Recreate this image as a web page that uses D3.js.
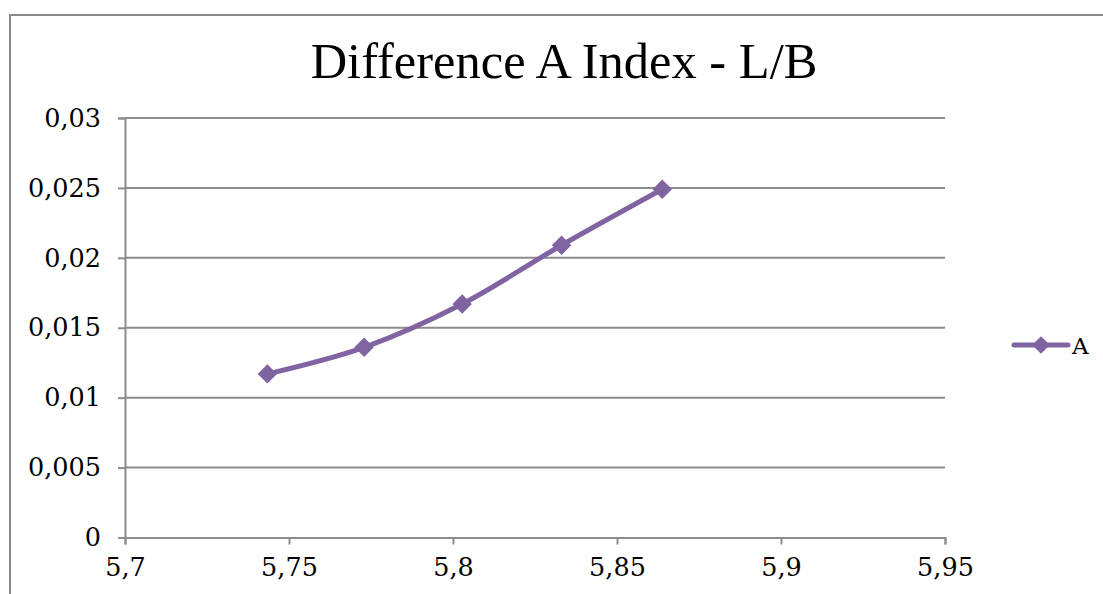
<!DOCTYPE html>
<html>
<head>
<meta charset="utf-8">
<script src="https://cdn.jsdelivr.net/npm/d3@7/dist/d3.min.js"></script>
<style>
  html, body { margin: 0; padding: 0; background: #fff; }
  svg { display: block; }
</style>
</head>
<body>
<svg id="chart" width="1103" height="594"></svg>
<script>
// Series A: L/B ratio against difference in A index
const seriesName = "A";
const lbValues = [5.7434, 5.7729, 5.8028, 5.8331, 5.8638];
const diffValues = [0.0117, 0.0136, 0.0167, 0.0209, 0.0249];
const xTicks = [5.7, 5.75, 5.8, 5.85, 5.9, 5.95];
const yTicks = [0, 0.005, 0.01, 0.015, 0.02, 0.025, 0.03];
const titleText = "Difference A Index - L/B";

const svg = d3.select("#chart");
const plot = { left: 125, right: 945, top: 118, bottom: 537.5 };
const gridColor = "#8c8c8c";
const seriesColor = "#8064a2";
const tickFont = "DejaVu Serif, serif";

const fmt = v => String(v).replace(".", ",");

const x = d3.scaleLinear().domain([5.7, 5.95]).range([plot.left, plot.right]);
const y = d3.scaleLinear().domain([0, 0.03]).range([plot.bottom, plot.top]);

// Chart frame
svg.append("rect")
  .attr("x", 10).attr("y", 15)
  .attr("width", 1200).attr("height", 700)
  .attr("fill", "none")
  .attr("stroke", "#888")
  .attr("stroke-width", 2);

// Title
svg.append("text")
  .attr("x", 564).attr("y", 78)
  .attr("text-anchor", "middle")
  .attr("font-family", "Liberation Serif, serif")
  .attr("font-size", 50.5)
  .attr("fill", "#000")
  .text(titleText);

// Horizontal gridlines
svg.append("g")
  .selectAll("line")
  .data(yTicks.filter(t => t > 0))
  .join("line")
  .attr("x1", plot.left).attr("x2", plot.right)
  .attr("y1", d => y(d)).attr("y2", d => y(d))
  .attr("stroke", gridColor)
  .attr("stroke-width", 2);

// Y axis
const yAxis = svg.append("g")
  .attr("transform", `translate(${plot.left},0)`)
  .call(d3.axisLeft(y).tickValues(yTicks).tickFormat(fmt).tickSize(7).tickPadding(17));
yAxis.attr("font-family", null).attr("font-size", null);
yAxis.select(".domain").attr("stroke", gridColor).attr("stroke-width", 2);
yAxis.selectAll(".tick line").attr("stroke", gridColor).attr("stroke-width", 2);
yAxis.selectAll(".tick text")
  .style("font-family", tickFont).style("font-size", "25.5px").attr("fill", "#000");

// X axis
const xAxis = svg.append("g")
  .attr("transform", `translate(0,${plot.bottom})`)
  .call(d3.axisBottom(x).tickValues(xTicks).tickFormat(fmt).tickSize(7).tickPadding(13));
xAxis.attr("font-family", null).attr("font-size", null);
xAxis.select(".domain").attr("stroke", gridColor).attr("stroke-width", 2);
xAxis.selectAll(".tick line").attr("stroke", gridColor).attr("stroke-width", 2);
xAxis.selectAll(".tick text")
  .style("font-family", tickFont).style("font-size", "25.5px").attr("fill", "#000");

// Smoothed series line
const points = lbValues.map((v, i) => ({ lb: v, diff: diffValues[i] }));
const line = d3.line()
  .x(d => x(d.lb))
  .y(d => y(d.diff))
  .curve(d3.curveCatmullRom.alpha(0.5));

svg.append("path")
  .datum(points)
  .attr("d", line)
  .attr("fill", "none")
  .attr("stroke", seriesColor)
  .attr("stroke-width", 5)
  .attr("stroke-linecap", "round");

// Diamond markers
const diamond = d3.symbol().type(d3.symbolDiamond2).size(240);
svg.append("g")
  .selectAll("path")
  .data(points)
  .join("path")
  .attr("transform", d => `translate(${x(d.lb)},${y(d.diff)})`)
  .attr("d", diamond)
  .attr("fill", seriesColor);

// Legend
const legend = svg.append("g").attr("transform", "translate(1014,345)");
legend.append("line")
  .attr("x1", 0).attr("x2", 54)
  .attr("y1", 0).attr("y2", 0)
  .attr("stroke", seriesColor)
  .attr("stroke-width", 5)
  .attr("stroke-linecap", "round");
legend.append("path")
  .attr("transform", "translate(27,0)")
  .attr("d", d3.symbol().type(d3.symbolDiamond2).size(200))
  .attr("fill", seriesColor);
legend.append("text")
  .attr("x", 58).attr("y", 9)
  .style("font-family", tickFont)
  .style("font-size", "23px")
  .attr("fill", "#000")
  .text(seriesName);
</script>
</body>
</html>
